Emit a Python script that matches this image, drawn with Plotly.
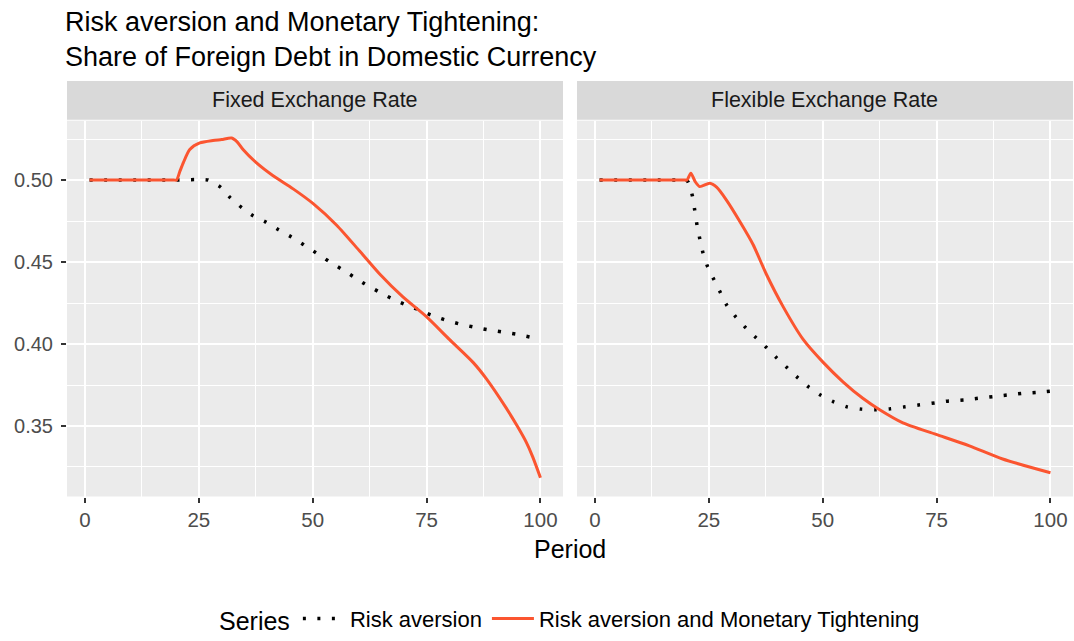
import plotly.graph_objects as go

# ---------------- data ----------------
fixed_ra_x = [1, 20, 27, 29.8, 31.9, 34.4, 36.9, 39.8, 42.5, 45.3, 48.0, 50.7, 53.4, 56.1,
              58.8, 61.4, 64.3, 67.1, 70.0, 73.0, 75.9, 78.9, 82.0, 85.2, 88.3, 91.5, 94.7,
              97.8, 100]
fixed_ra_y = [0.500, 0.500, 0.500, 0.4956, 0.4892, 0.4832, 0.4782, 0.4743, 0.4697, 0.4653,
              0.4605, 0.4557, 0.4507, 0.4461, 0.4413, 0.4367, 0.4322, 0.4281, 0.4244, 0.4212,
              0.4178, 0.4148, 0.4124, 0.4104, 0.4088, 0.4074, 0.4060, 0.4042, 0.4030]

fixed_ramt_x = [1, 19.5, 20.1, 20.8, 21.6, 23.0, 25.2, 28.1, 30.0, 32.2, 33.5, 34.7, 37.6,
                41.3, 45.7, 50.1, 55.2, 60.3, 64.7, 69.8, 74.9, 80.0, 85.2, 88.1, 92.5,
                95.0, 96.9, 98.3, 100]
fixed_ramt_y = [0.500, 0.500, 0.500, 0.505, 0.5106, 0.5186, 0.5226, 0.5241, 0.5247, 0.5256,
                0.5230, 0.5186, 0.5106, 0.5026, 0.4946, 0.4856, 0.4726, 0.4567, 0.4427,
                0.4287, 0.4168, 0.4028, 0.3888, 0.3789, 0.3609, 0.3495, 0.3400, 0.3312,
                0.3185]

flex_ra_x = [1, 19.5, 20.0, 20.5, 21.4, 21.9, 22.4, 23.0, 23.7, 24.7, 26.1, 27.5, 28.9, 30.9,
             33.0, 35.3, 37.6, 39.8, 42.2, 44.5, 46.9, 49.5, 52.3, 55.3, 58.5, 61.6, 64.8,
             68.1, 71.3, 74.6, 77.7, 81.0, 84.1, 87.4, 90.5, 93.7, 96.9, 100]
flex_ra_y = [0.500, 0.500, 0.500, 0.4986, 0.4902, 0.4816, 0.4726, 0.4643, 0.4557, 0.4473,
             0.4393, 0.4316, 0.4238, 0.4166, 0.4102, 0.4040, 0.3980, 0.3918, 0.3855, 0.3795,
             0.3738, 0.3689, 0.3649, 0.3617, 0.3603, 0.3599, 0.3605, 0.3617, 0.3629, 0.3641,
             0.3653, 0.3659, 0.3669, 0.3679, 0.3689, 0.3699, 0.3705, 0.3713]

flex_ramt_x = [1, 19.6, 20.2, 21.05, 22.0, 23.0, 25.2, 26.7, 28.9, 31.8, 34.7, 37.6, 41.3,
               45.7, 50.1, 54.5, 58.8, 62.5, 67.6, 74.9, 82.2, 89.5, 100]
flex_ramt_y = [0.500, 0.500, 0.500, 0.5042, 0.4990, 0.4960, 0.4980, 0.4956, 0.4876, 0.4747,
               0.4607, 0.4427, 0.4228, 0.4028, 0.3888, 0.3768, 0.3669, 0.3599, 0.3519,
               0.3449, 0.3379, 0.3299, 0.3215]

panel_labels = ["Fixed Exchange Rate", "Flexible Exchange Rate"]
series_names = ["Risk aversion", "Risk aversion and Monetary Tightening"]
x_ticks = [0, 25, 50, 75, 100]
y_ticks = [0.35, 0.40, 0.45, 0.50]

# ---------------- styling ----------------
W, H = 1074, 641
FONT = "Liberation Sans, Arial, Helvetica, sans-serif"
RED = "#FB5530"
DOT = dict(color="black", width=3.5, dash="3px,11.5px", shape="spline", smoothing=0.5)
SOLID = dict(color=RED, width=3, shape="spline", smoothing=0.7)


def fx(p):
    return p / W


def fy(p):
    return 1 - p / H


fig = go.Figure()

panels = [
    (fixed_ra_x, fixed_ra_y, fixed_ramt_x, fixed_ramt_y, "x", "y", True),
    (flex_ra_x, flex_ra_y, flex_ramt_x, flex_ramt_y, "x2", "y2", False),
]
for rx, ry, mx, my, xa, ya, show in panels:
    fig.add_trace(go.Scatter(x=rx, y=ry, mode="lines", name=series_names[0], line=DOT,
                             xaxis=xa, yaxis=ya, legendgroup="ra", showlegend=show))
    fig.add_trace(go.Scatter(x=mx, y=my, mode="lines", name=series_names[1], line=SOLID,
                             xaxis=xa, yaxis=ya, legendgroup="ramt", showlegend=show))

left_dom = [fx(67), fx(563)]
right_dom = [fx(577), fx(1073)]
y_dom = [fy(502), fy(122)]

xcommon = dict(range=[-3.95, 104.95], tickvals=x_ticks, showgrid=True, gridcolor="white",
               gridwidth=2, minor=dict(dtick=12.5, tick0=0, showgrid=True, gridcolor="white",
                                       gridwidth=1),
               ticks="outside", ticklen=5, tickwidth=1.5, tickcolor="#333333",
               tickfont=dict(family=FONT, size=20.5, color="#4D4D4D"),
               zeroline=False, showline=False, fixedrange=True)
ycommon = dict(range=[0.3070, 0.5362], tickvals=y_ticks, tickformat=".2f",
               showgrid=True, gridcolor="white", gridwidth=2,
               minor=dict(dtick=0.025, tick0=0, showgrid=True, gridcolor="white", gridwidth=1),
               zeroline=False, showline=False, domain=y_dom, fixedrange=True)

fig.update_layout(
    width=W, height=H,
    margin=dict(l=0, r=0, t=0, b=0),
    paper_bgcolor="white", plot_bgcolor="#EBEBEB",
    font=dict(family=FONT, color="black"),
    xaxis=dict(domain=left_dom, anchor="y", **xcommon),
    xaxis2=dict(domain=right_dom, anchor="y2", **xcommon),
    yaxis=dict(anchor="x", ticks="outside", ticklen=5, tickwidth=1.5, tickcolor="#333333",
               ticklabelstandoff=4,
               tickfont=dict(family=FONT, size=20, color="#4D4D4D"), **ycommon),
    yaxis2=dict(anchor="x2", matches="y", showticklabels=False, ticks="", **ycommon),
    title=dict(text="Risk aversion and Monetary Tightening:<br>Share of Foreign Debt in Domestic Currency",
               x=fx(65), xanchor="left", xref="container",
               y=fy(31), yanchor="middle", yref="container",
               font=dict(family=FONT, size=27, color="black")),
    legend=dict(orientation="h", x=fx(571), xanchor="center", y=fy(626), yanchor="middle",
                font=dict(family=FONT, size=22, color="black"),
                title=dict(text="Series", font=dict(family=FONT, size=25, color="black"),
                           side="left"),
                itemwidth=42, bgcolor="rgba(0,0,0,0)"),
)

# facet strips
for dom, label in zip([left_dom, right_dom], panel_labels):
    fig.add_shape(type="rect", xref="paper", yref="paper", x0=dom[0], x1=dom[1],
                  y0=fy(121), y1=fy(82), fillcolor="#D9D9D9", line=dict(width=0), layer="below")
    fig.add_annotation(text=label, xref="paper", yref="paper", x=(dom[0] + dom[1]) / 2,
                       y=fy(101.5), xanchor="center", yanchor="middle", showarrow=False,
                       font=dict(family=FONT, size=21.5, color="#1A1A1A"))

# shared x-axis title
fig.add_annotation(text="Period", xref="paper", yref="paper", x=fx(570), y=fy(555),
                   xanchor="center", yanchor="middle", showarrow=False,
                   font=dict(family=FONT, size=25, color="black"))

fig.write_html("out.html")
